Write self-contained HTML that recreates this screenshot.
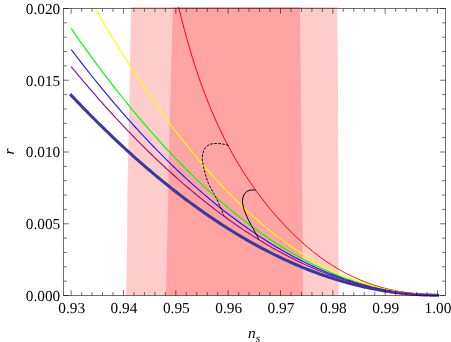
<!DOCTYPE html>
<html><head><meta charset="utf-8"><title>r vs n_s</title>
<style>
html,body{margin:0;padding:0;background:#fff;}
body{width:451px;height:342px;overflow:hidden;font-family:"Liberation Serif",serif;}
svg{display:block;will-change:transform;}
text{font-family:"Liberation Serif",serif;font-size:15.3px;fill:#000;text-rendering:geometricPrecision;}
</style></head><body>
<svg width="451" height="342" viewBox="0 0 451 342">
<rect x="0" y="0" width="451" height="342" fill="#fff"/>
<polygon points="131,7.0 130,64 128.9,124 127.5,188 127.2,240 126,295.2 338.5,295.2 338.5,240 338.3,168 337.9,68 337.3,7.0" fill="#ffcccc"/>
<polygon points="172.9,7.0 171.3,64 169.7,124 168.2,188 167.3,240 165.9,295.2 303,295.2 302.6,240 302.3,200 301.9,168 300.9,100 300.5,68 299.9,7.0" fill="#ffa3a3"/>
<g fill="none" stroke-linejoin="round">
<path d="M71.2,95.27 L73.2,97.38 L75.2,99.49 L77.2,101.59 L79.2,103.67 L81.2,105.75 L83.2,107.82 L85.2,109.87 L87.2,111.92 L89.2,113.95 L91.2,115.97 L93.2,117.99 L95.2,119.99 L97.2,121.98 L99.2,123.96 L101.2,125.93 L103.2,127.89 L105.2,129.84 L107.2,131.78 L109.2,133.71 L111.2,135.63 L113.2,137.53 L115.2,139.43 L117.2,141.32 L119.2,143.19 L121.2,145.05 L123.2,146.91 L125.2,148.75 L127.2,150.58 L129.2,152.40 L131.2,154.21 L133.2,156.01 L135.2,157.80 L137.2,159.58 L139.2,161.34 L141.2,163.10 L143.2,164.84 L145.2,166.57 L147.2,168.30 L149.2,170.01 L151.2,171.71 L153.2,173.40 L155.2,175.08 L157.2,176.74 L159.2,178.40 L161.2,180.04 L163.2,181.68 L165.2,183.30 L167.2,184.91 L169.2,186.51 L171.2,188.10 L173.2,189.68 L175.2,191.25 L177.2,192.80 L179.2,194.35 L181.2,195.88 L183.2,197.40 L185.2,198.91 L187.2,200.41 L189.2,201.90 L191.2,203.38 L193.2,204.84 L195.2,206.30 L197.2,207.74 L199.2,209.17 L201.2,210.59 L203.2,212.00 L205.2,213.39 L207.2,214.78 L209.2,216.15 L211.2,217.52 L213.2,218.87 L215.2,220.21 L217.2,221.54 L219.2,222.85 L221.2,224.16 L223.2,225.45 L225.2,226.73 L227.2,228.00 L229.2,229.26 L231.2,230.51 L233.2,231.75 L235.2,232.97 L237.2,234.18 L239.2,235.39 L241.2,236.57 L243.2,237.75 L245.2,238.92 L247.2,240.07 L249.2,241.22 L251.2,242.35 L253.2,243.47 L255.2,244.57 L257.1,245.67 L259.1,246.75 L261.1,247.83 L263.1,248.89 L265.1,249.94 L267.1,250.97 L269.1,252.00 L271.1,253.01 L273.1,254.01 L275.1,255.00 L277.1,255.98 L279.1,256.95 L281.1,257.90 L283.1,258.84 L285.1,259.77 L287.1,260.69 L289.1,261.60 L291.1,262.50 L293.1,263.38 L295.1,264.25 L297.1,265.11 L299.1,265.96 L301.1,266.79 L303.1,267.61 L305.1,268.43 L307.1,269.23 L309.1,270.01 L311.1,270.79 L313.1,271.55 L315.1,272.30 L317.1,273.04 L319.1,273.77 L321.1,274.49 L323.1,275.19 L325.1,275.88 L327.1,276.56 L329.1,277.23 L331.1,277.88 L333.1,278.53 L335.1,279.16 L337.1,279.78 L339.1,280.38 L341.1,280.98 L343.1,281.56 L345.1,282.13 L347.1,282.69 L349.1,283.24 L351.1,283.77 L353.1,284.29 L355.1,284.80 L357.1,285.30 L359.1,285.79 L361.1,286.26 L363.1,286.72 L365.1,287.17 L367.1,287.61 L369.1,288.03 L371.1,288.44 L373.1,288.85 L375.1,289.23 L377.1,289.61 L379.1,289.97 L381.1,290.33 L383.1,290.66 L385.1,290.99 L387.1,291.31 L389.1,291.61 L391.1,291.90 L393.1,292.18 L395.1,292.44 L397.1,292.70 L399.1,292.94 L401.1,293.17 L403.1,293.39 L405.1,293.59 L407.1,293.78 L409.1,293.96 L411.1,294.13 L413.1,294.29 L415.1,294.43 L417.1,294.56 L419.1,294.68 L421.1,294.79 L423.1,294.88 L425.1,294.97 L427.1,295.04 L429.1,295.09 L431.1,295.14 L433.1,295.17 L435.1,295.19 L437.1,295.20 L437.5,295.20" stroke="#3a3a9c" stroke-width="3.05" stroke-linecap="square"/>
<path d="M178.6,7.09 L180.6,15.20 L182.6,23.02 L184.6,30.57 L186.6,37.85 L188.6,44.87 L190.6,51.66 L192.6,58.21 L194.6,64.54 L196.6,70.66 L198.6,76.59 L200.6,82.31 L202.6,87.86 L204.6,93.23 L206.6,98.43 L208.6,103.48 L210.6,108.37 L212.6,113.12 L214.6,117.73 L216.6,122.20 L218.6,126.56 L220.6,130.79 L222.6,134.90 L224.6,138.91 L226.6,142.81 L228.6,146.61 L230.6,150.32 L232.6,153.94 L234.6,157.46 L236.6,160.91 L238.6,164.27 L240.6,167.56 L242.6,170.78 L244.6,173.92 L246.6,177.00 L248.6,180.01 L250.6,182.96 L252.6,185.85 L254.6,188.68 L256.6,191.46 L258.6,194.18 L260.6,196.85 L262.6,199.47 L264.6,202.03 L266.6,204.55 L268.6,207.03 L270.6,209.46 L272.6,211.84 L274.6,214.18 L276.6,216.48 L278.6,218.73 L280.6,220.95 L282.6,223.12 L284.6,225.25 L286.6,227.35 L288.6,229.41 L290.6,231.42 L292.6,233.41 L294.6,235.35 L296.6,237.26 L298.6,239.13 L300.6,240.96 L302.6,242.76 L304.6,244.52 L306.6,246.25 L308.6,247.94 L310.6,249.59 L312.6,251.21 L314.6,252.80 L316.6,254.35 L318.6,255.86 L320.6,257.35 L322.6,258.79 L324.6,260.21 L326.6,261.59 L328.6,262.93 L330.6,264.25 L332.6,265.53 L334.6,266.77 L336.6,267.99 L338.6,269.17 L340.6,270.32 L342.6,271.44 L344.6,272.52 L346.6,273.58 L348.6,274.60 L350.6,275.59 L352.6,276.55 L354.6,277.49 L356.6,278.39 L358.6,279.26 L360.6,280.11 L362.6,280.93 L364.6,281.72 L366.6,282.48 L368.6,283.21 L370.6,283.92 L372.6,284.60 L374.6,285.26 L376.6,285.89 L378.6,286.50 L380.6,287.09 L382.6,287.65 L384.6,288.19 L386.6,288.70 L388.6,289.20 L390.6,289.67 L392.6,290.12 L394.6,290.55 L396.6,290.96 L398.6,291.35 L400.6,291.72 L402.6,292.07 L404.6,292.41 L406.6,292.72 L408.6,293.02 L410.6,293.30 L412.6,293.56 L414.6,293.80 L416.6,294.02 L418.6,294.23 L420.6,294.41 L422.6,294.58 L424.6,294.73 L426.6,294.86 L428.6,294.97 L430.6,295.06 L432.6,295.13 L434.6,295.17 L436.6,295.20 L437.5,295.20" stroke="#ff0000" stroke-width="1.0"/>
<path d="M95.3,8.58 L97.3,12.04 L99.3,15.48 L101.3,18.90 L103.3,22.30 L105.3,25.68 L107.3,29.04 L109.3,32.38 L111.3,35.69 L113.3,38.99 L115.3,42.26 L117.3,45.52 L119.3,48.75 L121.3,51.96 L123.3,55.15 L125.3,58.32 L127.3,61.46 L129.3,64.59 L131.3,67.70 L133.3,70.78 L135.3,73.84 L137.3,76.88 L139.3,79.90 L141.3,82.90 L143.3,85.88 L145.3,88.84 L147.3,91.77 L149.3,94.68 L151.3,97.58 L153.3,100.45 L155.3,103.29 L157.3,106.12 L159.3,108.93 L161.3,111.71 L163.3,114.48 L165.3,117.22 L167.3,119.94 L169.3,122.64 L171.3,125.31 L173.3,127.97 L175.3,130.60 L177.3,133.21 L179.3,135.81 L181.3,138.37 L183.3,140.92 L185.3,143.45 L187.3,145.95 L189.3,148.44 L191.3,150.90 L193.3,153.34 L195.3,155.75 L197.3,158.15 L199.3,160.53 L201.3,162.88 L203.3,165.21 L205.3,167.52 L207.3,169.81 L209.3,172.08 L211.3,174.32 L213.3,176.54 L215.3,178.75 L217.3,180.93 L219.3,183.09 L221.3,185.22 L223.3,187.34 L225.3,189.43 L227.3,191.51 L229.3,193.56 L231.3,195.59 L233.3,197.60 L235.3,199.58 L237.3,201.55 L239.3,203.49 L241.3,205.42 L243.3,207.32 L245.3,209.20 L247.3,211.06 L249.3,212.89 L251.3,214.71 L253.3,216.50 L255.3,218.28 L257.3,220.03 L259.3,221.76 L261.3,223.47 L263.3,225.16 L265.3,226.82 L267.3,228.47 L269.3,230.09 L271.3,231.70 L273.3,233.28 L275.3,234.84 L277.3,236.38 L279.3,237.90 L281.3,239.40 L283.3,240.87 L285.3,242.33 L287.3,243.77 L289.3,245.18 L291.3,246.57 L293.3,247.95 L295.3,249.30 L297.3,250.63 L299.3,251.94 L301.3,253.23 L303.3,254.50 L305.3,255.75 L307.3,256.98 L309.3,258.19 L311.3,259.38 L313.3,260.54 L315.3,261.69 L317.3,262.82 L319.3,263.92 L321.3,265.01 L323.3,266.07 L325.3,267.12 L327.3,268.14 L329.3,269.15 L331.3,270.14 L333.3,271.10 L335.3,272.05 L337.3,272.97 L339.3,273.88 L341.3,274.76 L343.3,275.63 L345.3,276.48 L347.3,277.30 L349.3,278.11 L351.3,278.90 L353.3,279.67 L355.3,280.42 L357.3,281.15 L359.3,281.86 L361.3,282.55 L363.3,283.22 L365.3,283.87 L367.3,284.51 L369.3,285.12 L371.3,285.72 L373.3,286.29 L375.3,286.85 L377.3,287.39 L379.3,287.91 L381.3,288.41 L383.3,288.90 L385.3,289.36 L387.3,289.81 L389.3,290.24 L391.3,290.65 L393.3,291.04 L395.3,291.41 L397.3,291.77 L399.3,292.11 L401.3,292.43 L403.3,292.73 L405.3,293.01 L407.3,293.28 L409.3,293.53 L411.3,293.76 L413.3,293.97 L415.3,294.17 L417.3,294.35 L419.3,294.51 L421.3,294.65 L423.3,294.78 L425.3,294.89 L427.3,294.98 L429.3,295.06 L431.3,295.12 L433.3,295.16 L435.3,295.19 L437.3,295.20 L437.5,295.20" stroke="#ffff00" stroke-width="1.1"/>
<path d="M71.2,28.54 L73.2,31.43 L75.2,34.29 L77.2,37.14 L79.2,39.98 L81.2,42.80 L83.2,45.61 L85.2,48.40 L87.2,51.17 L89.2,53.93 L91.2,56.68 L93.2,59.41 L95.2,62.12 L97.2,64.82 L99.2,67.50 L101.2,70.17 L103.2,72.83 L105.2,75.46 L107.2,78.09 L109.2,80.69 L111.2,83.28 L113.2,85.86 L115.2,88.42 L117.2,90.97 L119.2,93.50 L121.2,96.01 L123.2,98.51 L125.2,101.00 L127.2,103.46 L129.2,105.92 L131.2,108.35 L133.2,110.78 L135.2,113.18 L137.2,115.57 L139.2,117.95 L141.2,120.31 L143.2,122.65 L145.2,124.98 L147.2,127.29 L149.2,129.59 L151.2,131.87 L153.2,134.14 L155.2,136.39 L157.2,138.63 L159.2,140.85 L161.2,143.05 L163.2,145.24 L165.2,147.41 L167.2,149.57 L169.2,151.71 L171.2,153.84 L173.2,155.95 L175.2,158.04 L177.2,160.12 L179.2,162.18 L181.2,164.23 L183.2,166.26 L185.2,168.28 L187.2,170.28 L189.2,172.27 L191.2,174.23 L193.2,176.19 L195.2,178.13 L197.2,180.05 L199.2,181.95 L201.2,183.84 L203.2,185.72 L205.2,187.58 L207.2,189.42 L209.2,191.25 L211.2,193.06 L213.2,194.85 L215.2,196.63 L217.2,198.40 L219.2,200.15 L221.2,201.88 L223.2,203.59 L225.2,205.30 L227.2,206.98 L229.2,208.65 L231.2,210.30 L233.2,211.94 L235.2,213.56 L237.2,215.17 L239.2,216.76 L241.2,218.33 L243.2,219.89 L245.2,221.43 L247.2,222.96 L249.2,224.47 L251.2,225.96 L253.2,227.44 L255.2,228.90 L257.1,230.35 L259.1,231.78 L261.1,233.20 L263.1,234.59 L265.1,235.98 L267.1,237.35 L269.1,238.70 L271.1,240.03 L273.1,241.35 L275.1,242.65 L277.1,243.94 L279.1,245.21 L281.1,246.47 L283.1,247.71 L285.1,248.93 L287.1,250.14 L289.1,251.33 L291.1,252.51 L293.1,253.67 L295.1,254.81 L297.1,255.94 L299.1,257.05 L301.1,258.15 L303.1,259.23 L305.1,260.29 L307.1,261.34 L309.1,262.37 L311.1,263.39 L313.1,264.39 L315.1,265.37 L317.1,266.34 L319.1,267.29 L321.1,268.23 L323.1,269.15 L325.1,270.05 L327.1,270.94 L329.1,271.81 L331.1,272.67 L333.1,273.51 L335.1,274.34 L337.1,275.14 L339.1,275.94 L341.1,276.71 L343.1,277.47 L345.1,278.22 L347.1,278.95 L349.1,279.66 L351.1,280.35 L353.1,281.04 L355.1,281.70 L357.1,282.35 L359.1,282.98 L361.1,283.60 L363.1,284.20 L365.1,284.78 L367.1,285.35 L369.1,285.90 L371.1,286.44 L373.1,286.96 L375.1,287.47 L377.1,287.95 L379.1,288.43 L381.1,288.88 L383.1,289.32 L385.1,289.75 L387.1,290.16 L389.1,290.55 L391.1,290.93 L393.1,291.29 L395.1,291.63 L397.1,291.96 L399.1,292.28 L401.1,292.57 L403.1,292.85 L405.1,293.12 L407.1,293.37 L409.1,293.60 L411.1,293.82 L413.1,294.02 L415.1,294.21 L417.1,294.38 L419.1,294.53 L421.1,294.67 L423.1,294.79 L425.1,294.90 L427.1,294.99 L429.1,295.06 L431.1,295.12 L433.1,295.16 L435.1,295.19 L437.1,295.20 L437.5,295.20" stroke="#00ff00" stroke-width="1.15"/>
<path d="M71.2,49.51 L73.2,52.14 L75.2,54.77 L77.2,57.37 L79.2,59.97 L81.2,62.55 L83.2,65.12 L85.2,67.67 L87.2,70.21 L89.2,72.74 L91.2,75.25 L93.2,77.75 L95.2,80.24 L97.2,82.71 L99.2,85.16 L101.2,87.61 L103.2,90.04 L105.2,92.45 L107.2,94.85 L109.2,97.24 L111.2,99.62 L113.2,101.98 L115.2,104.32 L117.2,106.65 L119.2,108.97 L121.2,111.28 L123.2,113.57 L125.2,115.84 L127.2,118.10 L129.2,120.35 L131.2,122.59 L133.2,124.81 L135.2,127.01 L137.2,129.21 L139.2,131.38 L141.2,133.55 L143.2,135.70 L145.2,137.83 L147.2,139.96 L149.2,142.07 L151.2,144.16 L153.2,146.24 L155.2,148.31 L157.2,150.36 L159.2,152.39 L161.2,154.42 L163.2,156.43 L165.2,158.42 L167.2,160.40 L169.2,162.37 L171.2,164.32 L173.2,166.26 L175.2,168.19 L177.2,170.10 L179.2,171.99 L181.2,173.88 L183.2,175.74 L185.2,177.60 L187.2,179.44 L189.2,181.26 L191.2,183.07 L193.2,184.87 L195.2,186.65 L197.2,188.42 L199.2,190.18 L201.2,191.92 L203.2,193.64 L205.2,195.35 L207.2,197.05 L209.2,198.73 L211.2,200.40 L213.2,202.06 L215.2,203.70 L217.2,205.32 L219.2,206.93 L221.2,208.53 L223.2,210.11 L225.2,211.68 L227.2,213.24 L229.2,214.78 L231.2,216.30 L233.2,217.81 L235.2,219.31 L237.2,220.79 L239.2,222.26 L241.2,223.71 L243.2,225.15 L245.2,226.57 L247.2,227.98 L249.2,229.38 L251.2,230.76 L253.2,232.13 L255.2,233.48 L257.1,234.82 L259.1,236.14 L261.1,237.45 L263.1,238.75 L265.1,240.03 L267.1,241.29 L269.1,242.54 L271.1,243.78 L273.1,245.00 L275.1,246.21 L277.1,247.40 L279.1,248.58 L281.1,249.74 L283.1,250.89 L285.1,252.03 L287.1,253.15 L289.1,254.25 L291.1,255.34 L293.1,256.42 L295.1,257.48 L297.1,258.53 L299.1,259.56 L301.1,260.58 L303.1,261.58 L305.1,262.57 L307.1,263.55 L309.1,264.51 L311.1,265.45 L313.1,266.38 L315.1,267.30 L317.1,268.20 L319.1,269.09 L321.1,269.96 L323.1,270.81 L325.1,271.66 L327.1,272.48 L329.1,273.30 L331.1,274.10 L333.1,274.88 L335.1,275.65 L337.1,276.40 L339.1,277.14 L341.1,277.87 L343.1,278.58 L345.1,279.27 L347.1,279.95 L349.1,280.62 L351.1,281.27 L353.1,281.90 L355.1,282.53 L357.1,283.13 L359.1,283.72 L361.1,284.30 L363.1,284.86 L365.1,285.41 L367.1,285.94 L369.1,286.46 L371.1,286.96 L373.1,287.45 L375.1,287.92 L377.1,288.38 L379.1,288.83 L381.1,289.26 L383.1,289.67 L385.1,290.07 L387.1,290.45 L389.1,290.82 L391.1,291.18 L393.1,291.51 L395.1,291.84 L397.1,292.15 L399.1,292.44 L401.1,292.72 L403.1,292.99 L405.1,293.24 L407.1,293.47 L409.1,293.69 L411.1,293.90 L413.1,294.09 L415.1,294.26 L417.1,294.42 L419.1,294.57 L421.1,294.70 L423.1,294.81 L425.1,294.91 L427.1,295.00 L429.1,295.07 L431.1,295.12 L433.1,295.16 L435.1,295.19 L437.1,295.20 L437.5,295.20" stroke="#1a1aff" stroke-width="1.15"/>
<path d="M71.2,66.59 L73.2,69.03 L75.2,71.45 L77.2,73.86 L79.2,76.26 L81.2,78.64 L83.2,81.02 L85.2,83.38 L87.2,85.72 L89.2,88.06 L91.2,90.38 L93.2,92.69 L95.2,94.99 L97.2,97.28 L99.2,99.55 L101.2,101.81 L103.2,104.06 L105.2,106.29 L107.2,108.52 L109.2,110.73 L111.2,112.93 L113.2,115.11 L115.2,117.28 L117.2,119.44 L119.2,121.59 L121.2,123.73 L123.2,125.85 L125.2,127.96 L127.2,130.06 L129.2,132.14 L131.2,134.21 L133.2,136.27 L135.2,138.32 L137.2,140.35 L139.2,142.37 L141.2,144.38 L143.2,146.37 L145.2,148.36 L147.2,150.33 L149.2,152.28 L151.2,154.23 L153.2,156.16 L155.2,158.08 L157.2,159.98 L159.2,161.87 L161.2,163.75 L163.2,165.62 L165.2,167.48 L167.2,169.32 L169.2,171.14 L171.2,172.96 L173.2,174.76 L175.2,176.55 L177.2,178.33 L179.2,180.09 L181.2,181.84 L183.2,183.58 L185.2,185.31 L187.2,187.02 L189.2,188.72 L191.2,190.40 L193.2,192.07 L195.2,193.73 L197.2,195.38 L199.2,197.01 L201.2,198.63 L203.2,200.24 L205.2,201.83 L207.2,203.41 L209.2,204.98 L211.2,206.54 L213.2,208.08 L215.2,209.61 L217.2,211.12 L219.2,212.62 L221.2,214.11 L223.2,215.59 L225.2,217.05 L227.2,218.50 L229.2,219.94 L231.2,221.36 L233.2,222.77 L235.2,224.16 L237.2,225.55 L239.2,226.92 L241.2,228.27 L243.2,229.62 L245.2,230.95 L247.2,232.26 L249.2,233.57 L251.2,234.86 L253.2,236.13 L255.2,237.40 L257.1,238.64 L259.1,239.88 L261.1,241.10 L263.1,242.31 L265.1,243.51 L267.1,244.69 L269.1,245.86 L271.1,247.02 L273.1,248.16 L275.1,249.29 L277.1,250.40 L279.1,251.51 L281.1,252.59 L283.1,253.67 L285.1,254.73 L287.1,255.78 L289.1,256.81 L291.1,257.83 L293.1,258.84 L295.1,259.83 L297.1,260.81 L299.1,261.78 L301.1,262.73 L303.1,263.67 L305.1,264.60 L307.1,265.51 L309.1,266.41 L311.1,267.29 L313.1,268.17 L315.1,269.02 L317.1,269.87 L319.1,270.70 L321.1,271.51 L323.1,272.32 L325.1,273.11 L327.1,273.88 L329.1,274.64 L331.1,275.39 L333.1,276.13 L335.1,276.85 L337.1,277.55 L339.1,278.25 L341.1,278.93 L343.1,279.59 L345.1,280.24 L347.1,280.88 L349.1,281.51 L351.1,282.12 L353.1,282.71 L355.1,283.30 L357.1,283.87 L359.1,284.42 L361.1,284.96 L363.1,285.49 L365.1,286.00 L367.1,286.50 L369.1,286.99 L371.1,287.46 L373.1,287.92 L375.1,288.36 L377.1,288.79 L379.1,289.21 L381.1,289.61 L383.1,290.00 L385.1,290.38 L387.1,290.74 L389.1,291.08 L391.1,291.42 L393.1,291.74 L395.1,292.04 L397.1,292.33 L399.1,292.61 L401.1,292.87 L403.1,293.12 L405.1,293.35 L407.1,293.58 L409.1,293.78 L411.1,293.98 L413.1,294.15 L415.1,294.32 L417.1,294.47 L419.1,294.61 L421.1,294.73 L423.1,294.84 L425.1,294.93 L427.1,295.01 L429.1,295.08 L431.1,295.13 L433.1,295.17 L435.1,295.19 L437.1,295.20 L437.5,295.20" stroke="#8a128a" stroke-width="1.15"/>
<path d="M228.7,145.5 C227.73,145.25 225.03,144.33 222.9,144 C220.77,143.67 218.07,143.43 215.9,143.5 C213.73,143.57 211.63,143.72 209.9,144.4 C208.17,145.08 206.65,146.17 205.5,147.6 C204.35,149.03 203.52,150.95 203,153 C202.48,155.05 202.30,157.58 202.4,159.9 C202.50,162.22 203.08,164.40 203.6,166.9 C204.12,169.40 204.68,172.13 205.5,174.9 C206.32,177.67 207.27,180.67 208.5,183.5 C209.73,186.33 211.77,189.82 212.9,191.9 C214.03,193.98 214.13,193.65 215.3,196 C216.47,198.35 218.42,202.60 219.9,206 C221.38,209.40 223.48,214.67 224.2,216.4" stroke="#000" stroke-width="0.95" stroke-dasharray="2.7,1.3"/>
<path d="M255.6,190 C254.65,190.03 251.52,189.83 249.9,190.2 C248.28,190.57 246.97,191.23 245.9,192.2 C244.83,193.17 244.07,194.70 243.5,196 C242.93,197.30 242.60,198.50 242.5,200 C242.40,201.50 242.50,203.02 242.9,205 C243.30,206.98 243.90,209.25 244.9,211.9 C245.90,214.55 247.40,217.90 248.9,220.9 C250.40,223.90 252.23,226.80 253.9,229.9 C255.57,233.00 258.07,237.90 258.9,239.5" stroke="#000" stroke-width="1.0"/>
</g>
<g fill="none" stroke="#000" stroke-width="0.56">
<rect x="63.5" y="8.5" width="382.0" height="287.0"/>
<path d="M71.15,295.5 v-5.3 M71.15,8.5 v5.3 M81.62,295.5 v-3.4 M81.62,8.5 v3.4 M92.08,295.5 v-3.4 M92.08,8.5 v3.4 M102.55,295.5 v-3.4 M102.55,8.5 v3.4 M113.02,295.5 v-3.4 M113.02,8.5 v3.4 M123.49,295.5 v-5.3 M123.49,8.5 v5.3 M133.95,295.5 v-3.4 M133.95,8.5 v3.4 M144.42,295.5 v-3.4 M144.42,8.5 v3.4 M154.89,295.5 v-3.4 M154.89,8.5 v3.4 M165.35,295.5 v-3.4 M165.35,8.5 v3.4 M175.82,295.5 v-5.3 M175.82,8.5 v5.3 M186.29,295.5 v-3.4 M186.29,8.5 v3.4 M196.76,295.5 v-3.4 M196.76,8.5 v3.4 M207.22,295.5 v-3.4 M207.22,8.5 v3.4 M217.69,295.5 v-3.4 M217.69,8.5 v3.4 M228.16,295.5 v-5.3 M228.16,8.5 v5.3 M238.63,295.5 v-3.4 M238.63,8.5 v3.4 M249.09,295.5 v-3.4 M249.09,8.5 v3.4 M259.56,295.5 v-3.4 M259.56,8.5 v3.4 M270.03,295.5 v-3.4 M270.03,8.5 v3.4 M280.49,295.5 v-5.3 M280.49,8.5 v5.3 M290.96,295.5 v-3.4 M290.96,8.5 v3.4 M301.43,295.5 v-3.4 M301.43,8.5 v3.4 M311.90,295.5 v-3.4 M311.90,8.5 v3.4 M322.36,295.5 v-3.4 M322.36,8.5 v3.4 M332.83,295.5 v-5.3 M332.83,8.5 v5.3 M343.30,295.5 v-3.4 M343.30,8.5 v3.4 M353.76,295.5 v-3.4 M353.76,8.5 v3.4 M364.23,295.5 v-3.4 M364.23,8.5 v3.4 M374.70,295.5 v-3.4 M374.70,8.5 v3.4 M385.17,295.5 v-5.3 M385.17,8.5 v5.3 M395.63,295.5 v-3.4 M395.63,8.5 v3.4 M406.10,295.5 v-3.4 M406.10,8.5 v3.4 M416.57,295.5 v-3.4 M416.57,8.5 v3.4 M427.03,295.5 v-3.4 M427.03,8.5 v3.4 M437.50,295.5 v-5.3 M437.50,8.5 v5.3 M63.5,295.50 h5.3 M445.5,295.50 h-5.3 M63.5,281.15 h3.4 M445.5,281.15 h-3.4 M63.5,266.80 h3.4 M445.5,266.80 h-3.4 M63.5,252.45 h3.4 M445.5,252.45 h-3.4 M63.5,238.10 h3.4 M445.5,238.10 h-3.4 M63.5,223.75 h5.3 M445.5,223.75 h-5.3 M63.5,209.40 h3.4 M445.5,209.40 h-3.4 M63.5,195.05 h3.4 M445.5,195.05 h-3.4 M63.5,180.70 h3.4 M445.5,180.70 h-3.4 M63.5,166.35 h3.4 M445.5,166.35 h-3.4 M63.5,152.00 h5.3 M445.5,152.00 h-5.3 M63.5,137.65 h3.4 M445.5,137.65 h-3.4 M63.5,123.30 h3.4 M445.5,123.30 h-3.4 M63.5,108.95 h3.4 M445.5,108.95 h-3.4 M63.5,94.60 h3.4 M445.5,94.60 h-3.4 M63.5,80.25 h5.3 M445.5,80.25 h-5.3 M63.5,65.90 h3.4 M445.5,65.90 h-3.4 M63.5,51.55 h3.4 M445.5,51.55 h-3.4 M63.5,37.20 h3.4 M445.5,37.20 h-3.4 M63.5,22.85 h3.4 M445.5,22.85 h-3.4 M63.5,8.50 h5.3 M445.5,8.50 h-5.3" stroke-width="0.56"/>
</g>
<g><text x="71.7" y="312.5" text-anchor="middle">0.93</text><text x="124.0" y="312.5" text-anchor="middle">0.94</text><text x="176.3" y="312.5" text-anchor="middle">0.95</text><text x="228.7" y="312.5" text-anchor="middle">0.96</text><text x="281.0" y="312.5" text-anchor="middle">0.97</text><text x="333.3" y="312.5" text-anchor="middle">0.98</text><text x="385.7" y="312.5" text-anchor="middle">0.99</text><text x="438.0" y="312.5" text-anchor="middle">1.00</text></g>
<g><text x="60.2" y="300.8" text-anchor="end">0.000</text><text x="60.2" y="229.1" text-anchor="end">0.005</text><text x="60.2" y="157.3" text-anchor="end">0.010</text><text x="60.2" y="85.5" text-anchor="end">0.015</text><text x="60.2" y="13.8" text-anchor="end">0.020</text></g>
<text transform="translate(13.7,151.5) rotate(-90)" text-anchor="middle" font-style="italic">r</text>
<text x="248" y="338.2" font-style="italic">n<tspan font-size="11.3px" dy="3.4">s</tspan></text>
</svg>
</body></html>
